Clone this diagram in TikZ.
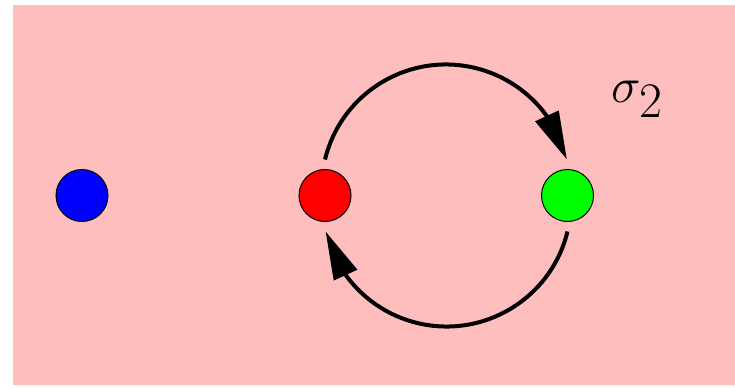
\documentclass[tikz,border=0pt]{standalone}
\usepackage{amsmath}
\usepackage{xcolor}
\usepackage{tikz}
\usetikzlibrary{positioning, arrows.meta, bending}

\definecolor{bgpink}{RGB}{255,190,190}

\begin{document}
\begin{tikzpicture}[
  x=0.5pt, y=0.5pt,
  font=\fontsize{39}{46}\selectfont,
  dot/.style={
    circle, draw=black, line width=0.5pt, inner sep=0pt, minimum size=26pt
  },
  flow/.style={
    line width=2pt, -{Triangle[length=24pt, width=12.5pt, flex]}
  }
]

\useasboundingbox (0,0) rectangle (735,387);
\fill[bgpink] (13,2) rectangle (735,382);

\node[dot, fill=blue] (blue) at (82,191.5) {};
\node[dot, fill=red] (red) at (325,191.5) {};
\node[dot, fill=green] (green) at (567.5,191.5) {};

\draw[flow] (red.north) ++(0,9.5) arc[start angle=166.3, end angle=13.7, radius=124.5];
\draw[flow] (green.south) ++(0,-9.5) arc[start angle=-13.7, end angle=-166.3, radius=124.5];

\node (swap) at (637.5,288) {$\sigma_2$};

\end{tikzpicture}
\end{document}
